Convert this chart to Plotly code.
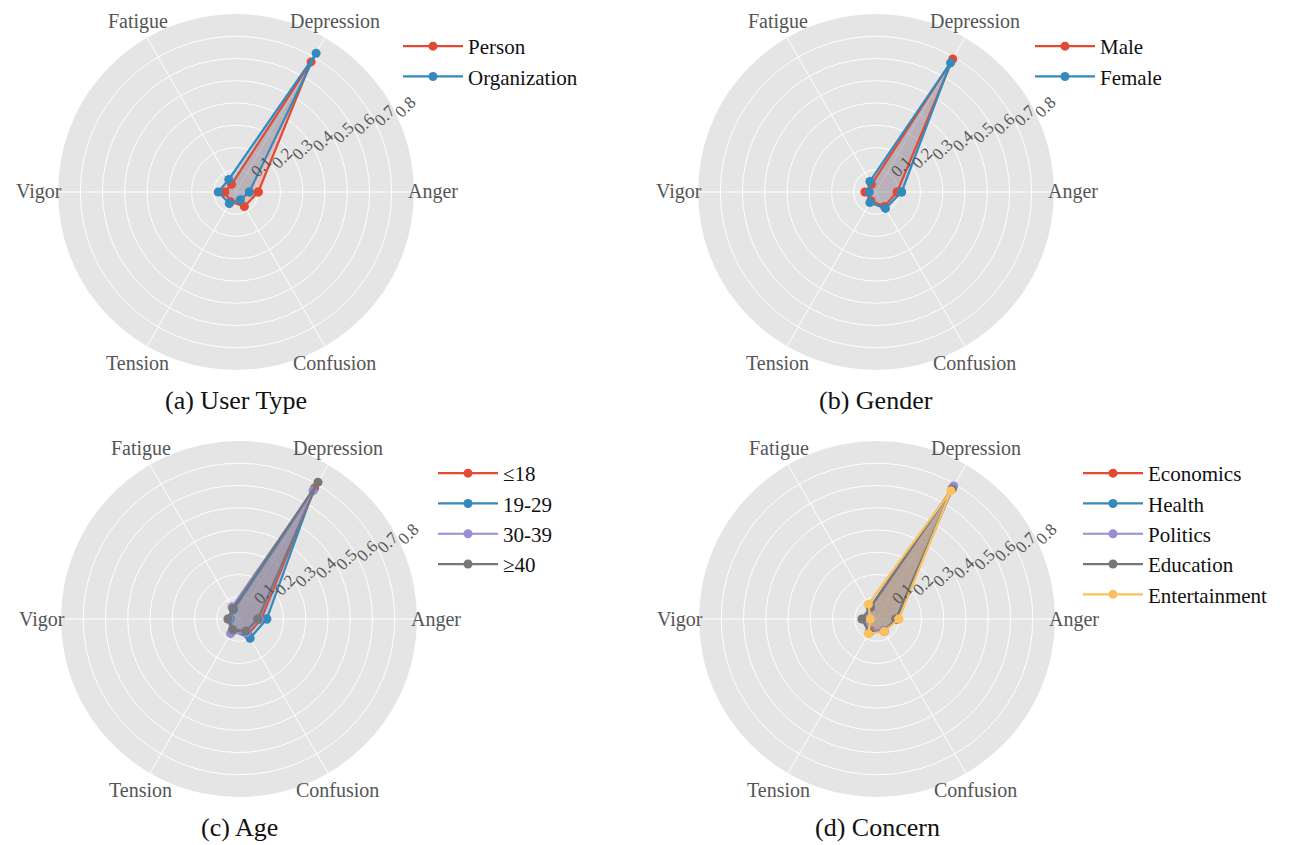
import math
import plotly.graph_objects as go

# Mood dimensions, in the order they go round the circle (counter-clockwise from 0°)
dimensions = ["Anger", "Depression", "Fatigue", "Vigor", "Tension", "Confusion"]
radial_ticks = [0.1, 0.2, 0.3, 0.4, 0.5, 0.6, 0.7, 0.8]

# (a) User Type
user_type_names = ["Person", "Organization"]
person = [0.10, 0.675, 0.04, 0.05, 0.05, 0.075]
organization = [0.06, 0.72, 0.065, 0.08, 0.06, 0.04]

# (b) Gender
gender_names = ["Male", "Female"]
male = [0.095, 0.69, 0.04, 0.05, 0.045, 0.075]
female = [0.115, 0.67, 0.055, 0.03, 0.055, 0.085]

# (c) Age
age_names = ["≤18", "19-29", "30-39", "≥40"]
age_le18 = [0.10, 0.68, 0.05, 0.045, 0.06, 0.08]
age_19_29 = [0.125, 0.67, 0.05, 0.04, 0.06, 0.10]
age_30_39 = [0.09, 0.665, 0.063, 0.045, 0.076, 0.07]
age_ge40 = [0.085, 0.71, 0.055, 0.05, 0.056, 0.062]

# (d) Concern
concern_names = ["Economics", "Health", "Politics", "Education", "Entertainment"]
economics = [0.09, 0.68, 0.06, 0.05, 0.06, 0.06]
health = [0.09, 0.675, 0.06, 0.06, 0.065, 0.06]
politics = [0.085, 0.69, 0.06, 0.05, 0.065, 0.06]
education = [0.085, 0.675, 0.06, 0.068, 0.07, 0.065]
entertainment = [0.098, 0.665, 0.077, 0.03, 0.077, 0.065]

panel_titles = ["(a) User Type", "(b) Gender", "(c) Age", "(d) Concern"]

colors = ["#E24A33", "#348ABD", "#988ED5", "#777777", "#FBC15E"]
fills = ["rgba(226,74,51,0.25)", "rgba(52,138,189,0.25)", "rgba(152,142,213,0.25)",
         "rgba(119,119,119,0.25)", "rgba(251,193,94,0.25)"]

W, H = 1290, 845
R = 178            # disc radius in px
LABEL_R = 197      # distance of the dimension labels from the centre, px
centers = [(236, 192), (876, 192), (239, 619), (877, 619)]
legend_pos = [(398, 26), (1030, 26), (433, 453), (1078, 453)]
title_y = [400, 827]

panels = [
    (user_type_names, [person, organization]),
    (gender_names, [male, female]),
    (age_names, [age_le18, age_19_29, age_30_39, age_ge40]),
    (concern_names, [economics, health, politics, education, entertainment]),
]

serif = "Liberation Serif, Times New Roman, serif"
fig = go.Figure()
layout = dict(
    width=W, height=H, margin=dict(l=0, r=0, t=0, b=0),
    paper_bgcolor="white", plot_bgcolor="white", showlegend=True,
    font=dict(family=serif),
)
annotations = []

for i, (names, series) in enumerate(panels):
    polar = "polar" if i == 0 else f"polar{i + 1}"
    legend = "legend" if i == 0 else f"legend{i + 1}"
    # translucent fills first, then outlines with markers on top
    for k, vals in enumerate(series):
        fig.add_trace(go.Scatterpolar(
            r=vals + vals[:1], theta=dimensions + dimensions[:1],
            mode="none", fill="toself", fillcolor=fills[k],
            showlegend=False, hoverinfo="skip", subplot=polar,
        ))
    for k, (name, vals) in enumerate(zip(names, series)):
        fig.add_trace(go.Scatterpolar(
            r=vals + vals[:1], theta=dimensions + dimensions[:1],
            mode="lines+markers", name=name,
            line=dict(color=colors[k], width=2.2),
            marker=dict(color=colors[k], size=9),
            subplot=polar, legend=legend,
        ))
    cx, cy = centers[i]
    layout[polar] = dict(
        domain=dict(x=[(cx - R) / W, (cx + R) / W], y=[1 - (cy + R) / H, 1 - (cy - R) / H]),
        bgcolor="#E5E5E5",
        radialaxis=dict(
            range=[0, 0.8], tickvals=radial_ticks,
            ticktext=[f"{t:.1f}" for t in radial_ticks],
            angle=22.5, tickangle=-22.5, side="counterclockwise",
            showline=False, ticks="",
            gridcolor="white", gridwidth=1.2,
            tickfont=dict(family=serif, size=17, color="#555555"),
        ),
        angularaxis=dict(
            categoryorder="array", categoryarray=dimensions,
            rotation=0, direction="counterclockwise",
            showline=False, ticks="", showticklabels=False,
            gridcolor="white", gridwidth=1.2,
        ),
    )
    # dimension labels centred on their spoke direction
    for j, dim in enumerate(dimensions):
        ang = math.radians(60 * j)
        annotations.append(dict(
            text=dim, x=(cx + LABEL_R * math.cos(ang)) / W,
            y=1 - (cy - LABEL_R * math.sin(ang)) / H,
            xref="paper", yref="paper", xanchor="center", yanchor="middle",
            showarrow=False, font=dict(family=serif, size=20, color="#555555"),
        ))
    lx, ly = legend_pos[i]
    layout[legend] = dict(
        x=lx / W, y=1 - ly / H, xanchor="left", yanchor="top",
        bgcolor="rgba(0,0,0,0)", font=dict(family=serif, size=21, color="#111111"),
        itemwidth=60, tracegroupgap=0,
    )

for i, title in enumerate(panel_titles):
    cx, _ = centers[i]
    annotations.append(dict(
        text=title, x=cx / W, y=1 - title_y[i // 2] / H, xref="paper", yref="paper",
        xanchor="center", yanchor="middle", showarrow=False,
        font=dict(family=serif, size=26, color="#111111"),
    ))
layout["annotations"] = annotations

fig.update_layout(**layout)
fig.write_html("out.html")
